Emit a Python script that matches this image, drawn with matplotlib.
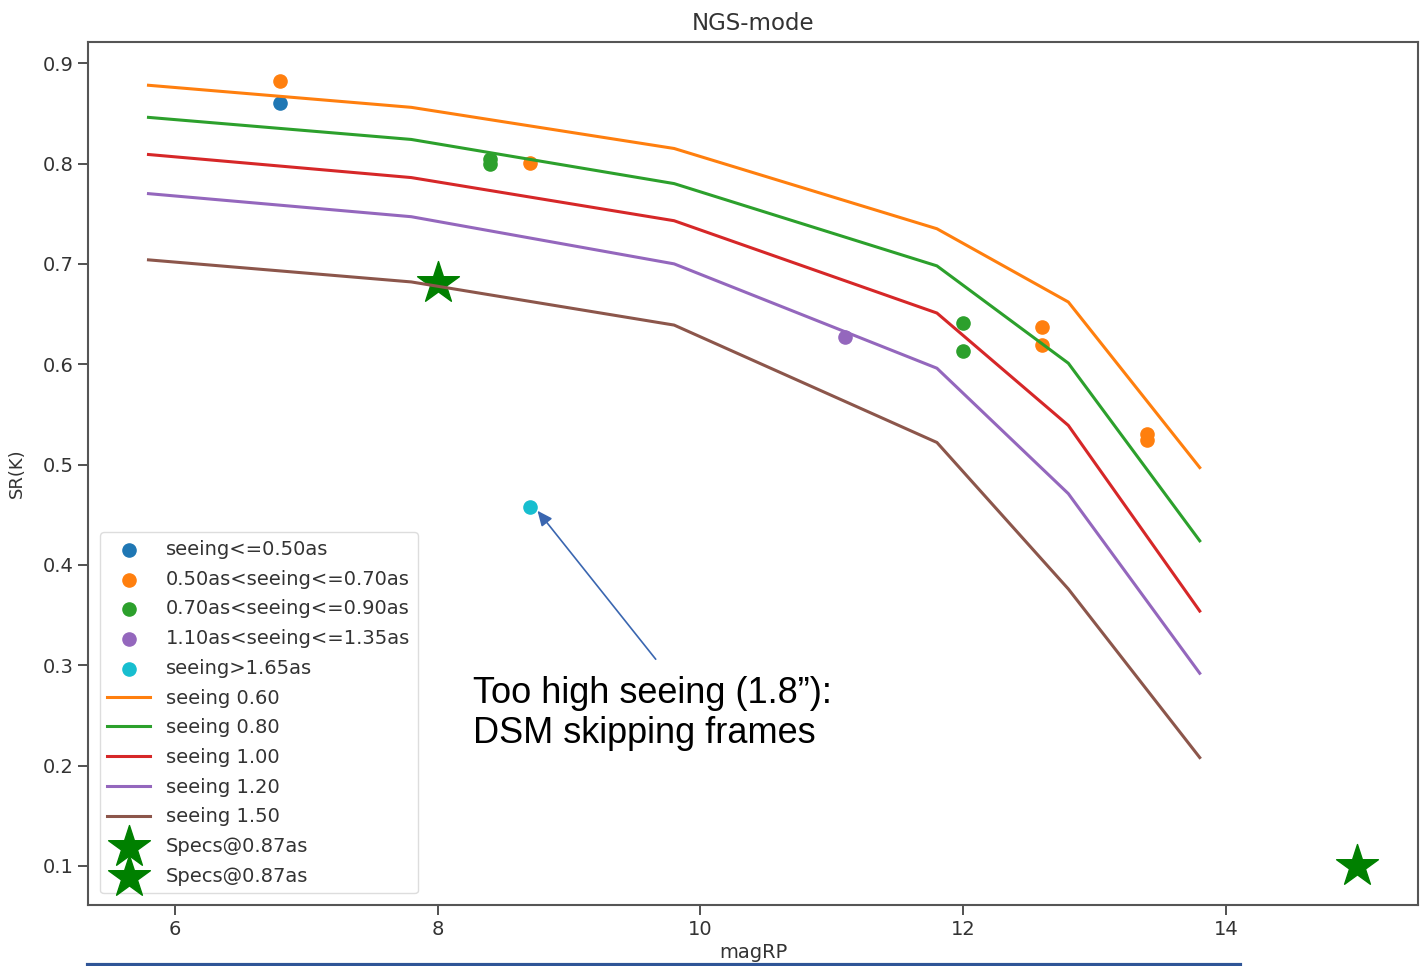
import matplotlib
matplotlib.use("Agg")
import matplotlib.pyplot as plt
from matplotlib.lines import Line2D

# measured points, grouped by seeing class
blue_x = [6.8]
blue_y = [0.860]
orange_x = [6.8, 8.7, 12.6, 12.6, 13.4, 13.4]
orange_y = [0.882, 0.801, 0.637, 0.619, 0.530, 0.524]
green_x = [8.4, 8.4, 12.0, 12.0]
green_y = [0.805, 0.800, 0.641, 0.613]
purple_x = [11.1]
purple_y = [0.627]
cyan_x = [8.7]
cyan_y = [0.458]

point_labels = ["seeing<=0.50as", "0.50as<seeing<=0.70as", "0.70as<seeing<=0.90as",
                "1.10as<seeing<=1.35as", "seeing>1.65as"]

# model curves
mag = [5.8, 7.8, 9.8, 11.8, 12.8, 13.8]
sr_060 = [0.878, 0.856, 0.815, 0.735, 0.662, 0.497]
sr_080 = [0.846, 0.824, 0.780, 0.698, 0.601, 0.424]
sr_100 = [0.809, 0.786, 0.743, 0.651, 0.539, 0.354]
sr_120 = [0.770, 0.747, 0.700, 0.596, 0.471, 0.292]
sr_150 = [0.704, 0.682, 0.639, 0.522, 0.376, 0.208]
curve_labels = ["seeing 0.60", "seeing 0.80", "seeing 1.00", "seeing 1.20", "seeing 1.50"]

# spec points
spec_x = [8.0, 15.0]
spec_y = [0.681, 0.100]

fig = plt.figure(figsize=(14.2, 9.66), dpi=100)
ax = fig.add_axes([0.062, 0.063, 0.9365, 0.8935])

s = 90
ax.scatter(blue_x, blue_y, s=s, color="tab:blue", label=point_labels[0])
ax.scatter(orange_x, orange_y, s=s, color="tab:orange", label=point_labels[1])
ax.scatter(green_x, green_y, s=s, color="tab:green", label=point_labels[2])
ax.scatter(purple_x, purple_y, s=s, color="tab:purple", label=point_labels[3])
ax.scatter(cyan_x, cyan_y, s=s, color="tab:cyan", label=point_labels[4])

lw = 2.2
ax.plot(mag, sr_060, color="tab:orange", lw=lw, label=curve_labels[0])
ax.plot(mag, sr_080, color="tab:green", lw=lw, label=curve_labels[1])
ax.plot(mag, sr_100, color="tab:red", lw=lw, label=curve_labels[2])
ax.plot(mag, sr_120, color="tab:purple", lw=lw, label=curve_labels[3])
ax.plot(mag, sr_150, color="tab:brown", lw=lw, label=curve_labels[4])

ax.scatter(spec_x[:1], spec_y[:1], marker="*", s=1000, color="green", label="Specs@0.87as")
ax.scatter(spec_x[1:], spec_y[1:], marker="*", s=1000, color="green", label="Specs@0.87as")

ax.set_title("NGS-mode", fontsize=16.5, color="#333333", pad=9)
ax.set_xlabel("magRP", fontsize=14, color="#333333", labelpad=3)
ax.set_ylabel("SR(K)", fontsize=13, color="#333333", labelpad=12)
ax.tick_params(labelsize=14, length=7, width=1.2, colors="#333333")
for sp in ax.spines.values():
    sp.set_color("#555555")
    sp.set_linewidth(1.5)

leg = ax.legend(loc="lower left", fontsize=14, labelspacing=0.55, handlelength=2.2,
                borderaxespad=0.6, framealpha=1)
leg.get_frame().set_edgecolor("#dddddd")
for t in leg.get_texts():
    t.set_color("#333333")

ax.annotate("", xy=(8.76, 0.454), xytext=(9.66, 0.306),
            arrowprops=dict(arrowstyle="-|>,head_length=0.9,head_width=0.4",
                            color="#3A66B0", lw=1.2, shrinkA=0, shrinkB=0))
ax.text(8.27, 0.289, "Too high seeing (1.8\u201d):\nDSM skipping frames",
        fontsize=26, family="Liberation Sans", color="black",
        va="top", ha="left", linespacing=1.18)

# slide bar under the chart
fig.add_artist(Line2D([0.062, 0.873], [0.0015, 0.0015], color="#2F5597", lw=3,
                      transform=fig.transFigure))

fig.savefig("out.png", dpi=100)
